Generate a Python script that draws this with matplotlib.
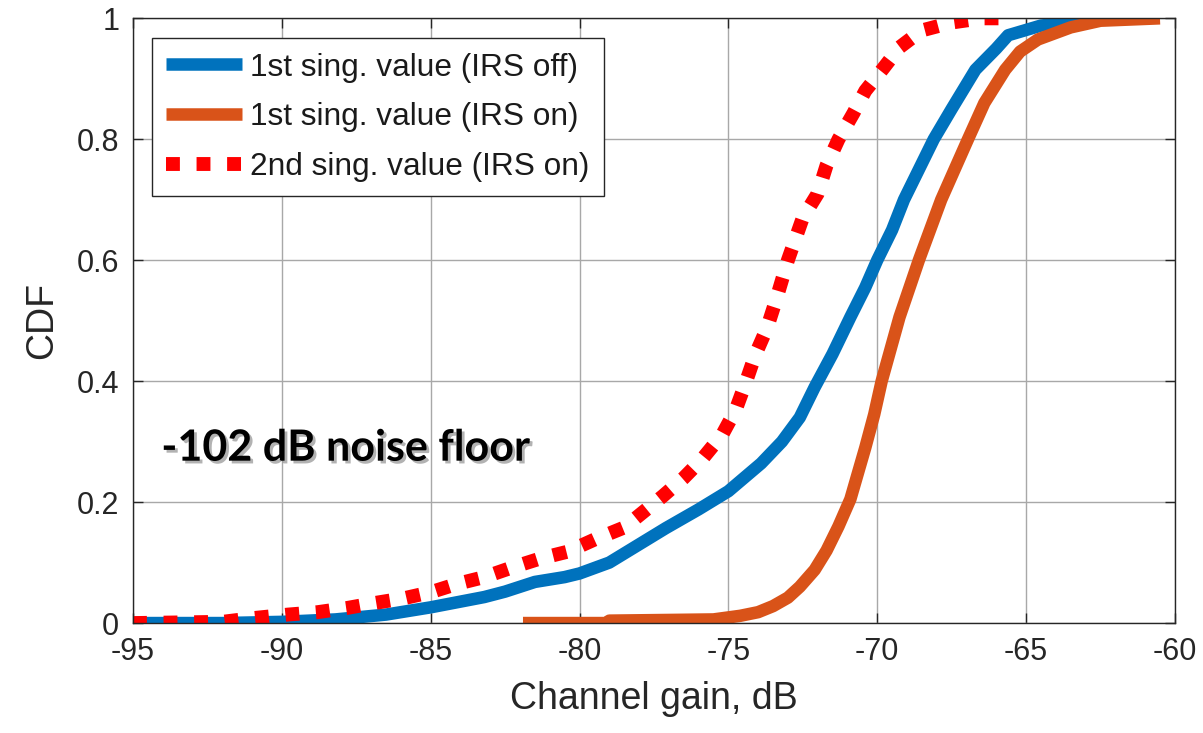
import numpy as np
import matplotlib.pyplot as plt
import matplotlib.patheffects as pe

# CDF curves (channel gain in dB, CDF)
off1_x = [-95, -92, -90, -88.2, -86.5, -85, -83.2, -82.5, -81.5, -80.5, -80, -79, -78.2,
          -77.1, -76, -75, -73.9, -73.2, -72.6, -72.1, -71.5, -70.9, -70.4, -70.0, -69.5,
          -69.1, -68.6, -68.1, -67.5, -66.7, -66, -65.6, -64.5, -63, -62]
off1_y = [0, 0, 0.002, 0.006, 0.014, 0.026, 0.043, 0.052, 0.068, 0.076, 0.082, 0.1, 0.124,
          0.157, 0.188, 0.218, 0.264, 0.3, 0.34, 0.39, 0.445, 0.506, 0.555, 0.6, 0.65,
          0.7, 0.75, 0.8, 0.85, 0.915, 0.95, 0.972, 0.988, 0.996, 1.0]

on1_x = [-81.9, -79.1, -79.0, -75.5, -74.6, -74.0, -73.5, -73.0, -72.6, -72.1, -71.7, -71.3,
         -70.9, -70.4, -70.1, -69.85, -69.25, -68.6, -67.85, -67.4, -66.95, -66.4, -65.7,
         -65.2, -64.6, -63.5, -62.5, -60.5]
on1_y = [0, 0, 0.004, 0.006, 0.012, 0.018, 0.028, 0.042, 0.06, 0.088, 0.12, 0.16,
         0.205, 0.29, 0.345, 0.4, 0.506, 0.6, 0.7, 0.75, 0.8, 0.86, 0.915,
         0.945, 0.965, 0.985, 0.996, 1.0]

on2_x = [-95, -92, -91, -89.8, -88.8, -87.8, -86.9, -85.9, -85, -84.1, -83.2, -82.2, -81.3,
         -80.4, -79.5, -78.5, -77.9, -77.2, -76.5, -75.9, -75.2, -74.75, -74.4, -74.1, -73.7,
         -73.4, -73.0, -72.5, -72.0, -71.7, -71.3, -70.8, -70.4, -69.8, -69.25, -68.5,
         -67.5, -66.5, -65.45]
on2_y = [0, 0.002, 0.008, 0.014, 0.018, 0.025, 0.033, 0.041, 0.051, 0.065, 0.076, 0.093, 0.107,
         0.118, 0.138, 0.158, 0.182, 0.21, 0.24, 0.27, 0.312, 0.353, 0.4, 0.443, 0.488,
         0.534, 0.6, 0.67, 0.71, 0.757, 0.8, 0.843, 0.88, 0.917, 0.952, 0.98,
         0.993, 1.0, 1.0]

labels = ["1st sing. value (IRS off)", "1st sing. value (IRS on)", "2nd sing. value (IRS on)"]
xticks = np.arange(-95, -59, 5)
yticks = [0, 0.2, 0.4, 0.6, 0.8, 1]
ytick_labels = ["0", "0.2", "0.4", "0.6", "0.8", "1"]

plt.rcParams['font.family'] = ['Liberation Sans', 'DejaVu Sans']

fig = plt.figure(figsize=(12.03, 7.33), dpi=100)
ax = fig.add_axes([0.1106, 0.150, 0.866, 0.825])

ax.plot(off1_x, off1_y, color='#0072BD', lw=9, solid_capstyle='butt', label=labels[0])
ax.plot(on1_x, on1_y, color='#D95319', lw=9, solid_capstyle='butt', label=labels[1])
ax.plot(on2_x, on2_y, color='#FF0000', lw=10, linestyle=(0, (1, 1.2)),
        dash_capstyle='butt', label=labels[2])

ax.set_xlim(-95, -60)
ax.set_ylim(0, 1)
ax.set_xticks(xticks)
ax.set_xticklabels([str(v) for v in xticks])
ax.set_yticks(yticks)
ax.set_yticklabels(ytick_labels)
ax.tick_params(direction='in', length=7, width=1, top=True, right=True,
               labelsize=22, colors='#262626', pad=10)
ax.grid(True, color='#a8a8a8', lw=1)
ax.set_axisbelow(True)
for s in ax.spines.values():
    s.set_color('#262626')
    s.set_linewidth(1)

ax.set_xlabel("Channel gain, dB", fontsize=27, color='#262626', labelpad=10)
ax.set_ylabel("CDF", fontsize=27, color='#262626', labelpad=12)

leg = ax.legend(loc='upper left', bbox_to_anchor=(0.018, 0.967), borderaxespad=0,
                fontsize=22.8, handlelength=2.4, handletextpad=0.25, labelspacing=0.62,
                fancybox=False, framealpha=1, edgecolor='#262626', borderpad=0.45)
leg.get_frame().set_linewidth(1)
for t in leg.get_texts():
    t.set_color('#1a1a1a')

ax.text(-94.05, 0.29, "-102 dB noise floor", fontsize=31, fontweight='bold',
        family=['Lato', 'DejaVu Sans'], va='center', ha='left', color='black',
        path_effects=[pe.withSimplePatchShadow(offset=(2, -2), shadow_rgbFace='gray', alpha=0.6)])

fig.savefig("out.png", dpi=100)
